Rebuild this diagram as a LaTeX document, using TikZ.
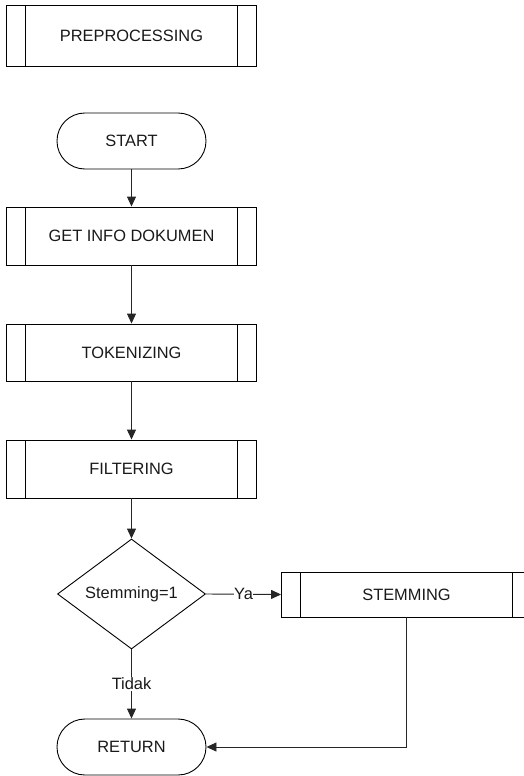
\documentclass[tikz,border=0pt]{standalone}
\usepackage{fontspec}
\setmainfont{Liberation Sans}
\usetikzlibrary{arrows.meta,shapes.geometric}

\tikzset{
  txt/.style={font=\fontsize{16.4}{19}\selectfont, text=black!90},
  base/.style={txt, draw=black, line width=0.9pt, inner sep=0pt},
  predef/.style={base, rectangle, minimum width=250pt,
    path picture={
      \draw[line width=0.9pt]
        ([xshift=19pt]path picture bounding box.north west) -- ([xshift=19pt]path picture bounding box.south west)
        ([xshift=-19pt]path picture bounding box.north east) -- ([xshift=-19pt]path picture bounding box.south east);
    }},
  terminal/.style={base, rectangle, rounded corners=27.9pt, minimum width=149pt, minimum height=56pt},
  decision/.style={base, diamond, minimum width=148pt, minimum height=110pt, aspect=1.35},
  flow/.style={line width=0.9pt, draw=black!85, -{Triangle[length=10pt,width=9pt]}},
  lbl/.style={txt, fill=white, inner sep=0.5pt}
}

\begin{document}
\begin{tikzpicture}[x=1pt, y=-1pt]
  \useasboundingbox (0,0) rectangle (524,776);

  % title block
  \node[predef, minimum height=61pt] (pre) at (131.5,36.3) {PREPROCESSING};

  % main flow
  \node[terminal] (start) at (131.5,141) {START};
  \node[predef, minimum height=58pt] (get) at (131.5,236) {GET INFO DOKUMEN};
  \node[predef, minimum height=57pt] (tok) at (131.5,352.5) {TOKENIZING};
  \node[predef, minimum height=58pt] (filt) at (131.5,469) {FILTERING};
  \node[decision] (dec) at (131.5,594) {Stemming=1};
  \node[predef, minimum height=45pt] (stem) at (406.5,594.5) {STEMMING};
  \node[terminal] (ret) at (131.5,747) {RETURN};

  \coordinate (corner) at (stem.south |- ret.east);

  \draw[flow] (start) -- (get);
  \draw[flow] (get) -- (tok);
  \draw[flow] (tok) -- (filt);
  \draw[flow] (filt) -- (dec);
  \draw[flow] (dec.east) -- node[lbl] {Ya} (stem.west);
  \draw[flow] (dec.south) -- node[lbl] {Tidak} (ret.north);
  \draw[flow] (stem.south) -- (corner) -- (ret.east);
\end{tikzpicture}
\end{document}
